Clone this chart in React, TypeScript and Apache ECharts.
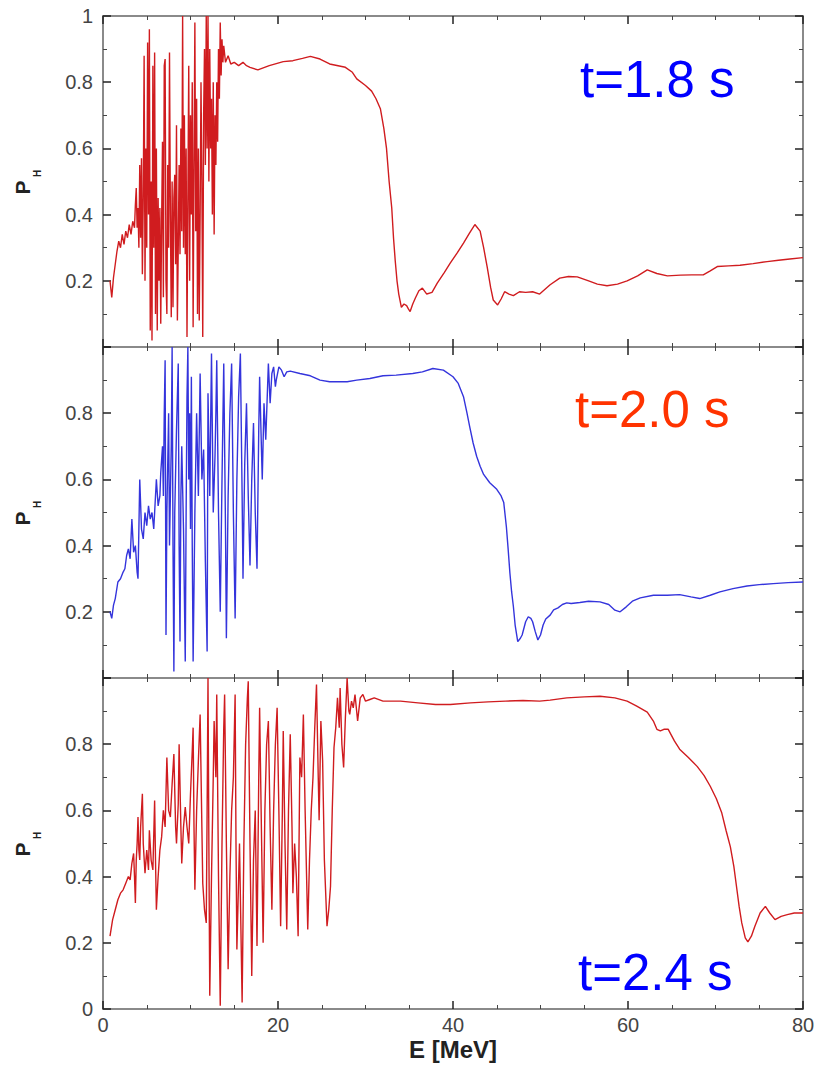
import React, { useEffect, useRef } from "react";
import * as echarts from "echarts";

// ---------- data ----------
const xTickLabels = ["0", "20", "40", "60", "80"];
const yLabelsTop = ["", "0.2", "0.4", "0.6", "0.8", "1"];
const yLabelsMid = ["", "0.2", "0.4", "0.6", "0.8", ""];
const yLabelsBot = ["0", "0.2", "0.4", "0.6", "0.8", ""];
const panelTitles = ["t=1.8 s", "t=2.0 s", "t=2.4 s"];

// t = 1.8 s
const e18 = [0.8,1.0,1.2,1.4,1.6,1.8,2.0,2.2,2.4,2.6,2.8,3.0,3.2,3.4,3.6,3.7,3.8,3.9,4.0,4.1,4.2,4.3,4.4,4.5,4.6,4.7,4.8,4.9,5.0,5.1,5.2,5.3,5.4,5.5,5.6,5.7,5.8,5.9,6.0,6.1,6.2,6.3,6.4,6.5,6.6,6.7,6.8,6.9,7.0,7.1,7.2,7.3,7.4,7.5,7.6,7.7,7.8,7.9,8.0,8.1,8.2,8.3,8.4,8.5,8.6,8.7,8.8,8.9,9.0,9.1,9.2,9.3,9.4,9.5,9.6,9.7,9.8,9.9,10.0,10.1,10.2,10.3,10.4,10.5,10.6,10.7,10.8,10.9,11.0,11.1,11.2,11.3,11.4,11.5,11.6,11.7,11.8,11.9,12.0,12.1,12.2,12.3,12.4,12.5,12.6,12.7,12.8,12.9,13.0,13.1,13.2,13.3,13.4,13.5,13.6,13.7,13.8,14.0,14.3,14.6,15.0,15.5,16.0,16.4,16.8,17.7,19.0,20.6,21.7,22.8,23.7,24.8,25.9,27.7,28.5,29.0,30.0,30.7,31.2,31.7,32.1,32.4,32.7,33.0,33.2,33.4,33.6,33.8,34.1,34.4,34.7,34.9,35.1,35.4,35.7,36.1,36.5,37.0,37.6,38.2,39.0,39.7,40.5,41.2,41.9,42.5,43.1,43.5,43.9,44.3,44.6,45.1,45.5,45.9,46.4,46.9,47.6,48.3,49.1,49.9,51.1,52.2,53.2,54.2,55.5,56.5,57.6,58.8,59.9,61.1,62.2,63.3,64.5,66.0,67.3,68.6,69.4,70.2,71.5,72.8,74.3,75.9,77.2,78.5,80];
const p18 = [0.20,0.15,0.21,0.25,0.29,0.32,0.30,0.34,0.31,0.35,0.33,0.37,0.34,0.38,0.36,0.43,0.48,0.36,0.42,0.30,0.55,0.33,0.57,0.22,0.45,0.88,0.20,0.60,0.30,0.92,0.40,0.96,0.05,0.50,0.02,0.85,0.30,0.89,0.10,0.60,0.05,0.45,0.20,0.42,0.07,0.38,0.62,0.15,0.85,0.87,0.20,0.10,0.55,0.30,0.89,0.40,0.09,0.50,0.12,0.45,0.52,0.25,0.67,0.08,0.30,0.55,0.28,0.66,0.35,1.0,0.30,0.70,0.28,0.60,0.03,0.45,0.85,0.20,0.70,0.40,0.80,0.06,0.55,0.98,0.35,0.75,0.10,0.60,0.08,0.40,0.80,0.50,0.03,0.70,0.90,0.55,1.0,0.60,1.0,0.50,0.90,0.60,0.75,0.40,0.80,0.34,0.70,0.55,0.80,0.62,0.90,0.75,0.98,0.82,0.93,0.86,0.91,0.86,0.88,0.855,0.86,0.85,0.86,0.85,0.845,0.837,0.85,0.862,0.865,0.872,0.878,0.87,0.855,0.845,0.83,0.81,0.79,0.773,0.75,0.72,0.66,0.60,0.50,0.42,0.33,0.26,0.20,0.16,0.12,0.13,0.125,0.115,0.107,0.13,0.148,0.17,0.178,0.16,0.165,0.193,0.225,0.254,0.285,0.314,0.345,0.37,0.35,0.30,0.243,0.18,0.142,0.127,0.145,0.167,0.16,0.155,0.167,0.165,0.167,0.16,0.188,0.208,0.213,0.212,0.20,0.19,0.185,0.19,0.20,0.215,0.233,0.222,0.215,0.217,0.218,0.218,0.23,0.243,0.245,0.247,0.252,0.258,0.262,0.266,0.27];

// t = 2.0 s
const e20 = [0.8,1.0,1.2,1.4,1.7,2.0,2.3,2.5,2.7,2.9,3.1,3.3,3.5,3.7,3.9,4.0,4.2,4.4,4.6,4.8,5.0,5.2,5.4,5.6,5.8,6.0,6.1,6.3,6.5,6.6,6.8,6.9,7.0,7.1,7.2,7.3,7.5,7.6,7.8,7.9,8.0,8.1,8.2,8.4,8.6,8.7,8.8,8.9,9.0,9.2,9.4,9.5,9.6,9.7,9.8,9.9,10.0,10.1,10.2,10.3,10.5,10.7,10.9,11.1,11.3,11.5,11.7,11.9,12.0,12.2,12.4,12.6,12.8,12.9,13.0,13.2,13.4,13.6,13.8,14.0,14.1,14.3,14.5,14.7,14.9,15.1,15.3,15.5,15.7,15.9,16.0,16.2,16.4,16.6,16.8,17.0,17.2,17.4,17.6,17.8,17.9,18.1,18.2,18.4,18.6,18.9,19.1,19.3,19.5,19.7,19.8,20.1,20.4,20.7,21.0,21.4,22.5,23.7,24.8,25.9,27.9,29.0,30.5,32.0,33.5,35.4,36.5,37.7,38.9,40.0,40.6,41.2,41.6,41.9,42.3,42.7,43.1,43.5,44.2,45.0,45.5,45.8,46.1,46.3,46.5,46.7,46.9,47.1,47.4,47.7,47.9,48.3,48.6,48.9,49.1,49.4,49.7,50.0,50.3,50.6,51.1,51.5,52.0,52.5,53.0,53.5,54.5,55.5,56.8,57.8,58.5,59.1,59.8,60.5,61.4,62.9,64.5,65.9,67.2,68.2,69.4,70.5,72.0,73.6,75.0,76.6,78.3,80];
const p20 = [0.20,0.18,0.22,0.24,0.29,0.30,0.32,0.33,0.37,0.39,0.36,0.48,0.38,0.40,0.32,0.30,0.60,0.45,0.42,0.50,0.46,0.52,0.48,0.50,0.45,0.55,0.60,0.52,0.55,0.62,0.70,0.55,0.80,0.96,0.13,0.50,0.80,0.40,0.70,1.0,0.40,0.02,0.50,0.75,0.95,0.40,0.11,0.55,0.70,0.45,0.05,0.50,0.85,1.0,0.60,0.80,0.45,0.91,0.40,0.05,0.50,0.80,0.55,0.92,0.60,0.69,0.35,0.08,0.86,0.55,0.98,0.50,0.67,0.80,0.96,0.50,0.20,0.60,0.95,0.45,0.12,0.55,0.80,0.95,0.50,0.18,0.60,0.85,0.98,0.55,0.30,0.65,0.83,0.55,0.34,0.60,0.77,0.50,0.33,0.75,0.91,0.70,0.60,0.83,0.72,0.95,0.83,0.92,0.94,0.88,0.90,0.94,0.93,0.91,0.925,0.927,0.92,0.913,0.90,0.895,0.895,0.90,0.905,0.913,0.915,0.92,0.925,0.935,0.93,0.91,0.89,0.85,0.80,0.76,0.71,0.67,0.64,0.615,0.59,0.57,0.55,0.53,0.457,0.39,0.318,0.26,0.216,0.16,0.11,0.12,0.13,0.17,0.185,0.18,0.17,0.14,0.115,0.13,0.16,0.178,0.19,0.206,0.212,0.222,0.227,0.225,0.228,0.232,0.23,0.222,0.205,0.20,0.215,0.232,0.242,0.25,0.25,0.252,0.245,0.24,0.25,0.26,0.27,0.278,0.282,0.285,0.288,0.29];

// t = 2.4 s
const e24 = [0.8,1.1,1.4,1.7,2.0,2.3,2.6,2.9,3.1,3.3,3.5,3.6,3.7,3.8,3.9,4.0,4.1,4.2,4.3,4.5,4.6,4.8,5.0,5.2,5.3,5.5,5.7,5.9,6.0,6.1,6.3,6.5,6.7,6.9,7.1,7.3,7.5,7.7,7.9,8.1,8.3,8.4,8.6,8.7,8.9,9.0,9.2,9.4,9.6,9.8,10.0,10.2,10.3,10.4,10.5,10.7,10.9,11.1,11.3,11.4,11.6,11.8,11.9,12.0,12.1,12.2,12.4,12.6,12.7,12.9,13.0,13.2,13.4,13.6,13.8,13.9,14.1,14.3,14.5,14.7,14.9,15.1,15.2,15.3,15.6,15.9,16.1,16.3,16.5,16.6,16.8,17.0,17.2,17.4,17.6,17.8,17.9,18.1,18.3,18.5,18.7,18.9,19.1,19.3,19.5,19.7,19.9,20.1,20.3,20.5,20.6,20.8,21.0,21.2,21.4,21.6,21.7,21.9,22.1,22.3,22.5,22.7,22.9,23.1,23.4,23.6,23.8,24.0,24.2,24.4,24.6,24.7,24.9,25.1,25.3,25.6,25.8,26.0,26.2,26.4,26.6,26.8,27.0,27.1,27.3,27.5,27.7,27.9,28.1,28.2,28.4,28.6,28.8,29.1,29.4,29.7,30.0,30.5,31.0,32.0,34.0,36.0,38.0,39.7,42.0,44.0,46.0,48.0,49.9,51.1,53.0,55.0,56.8,58.5,59.9,61.0,62.2,62.9,63.3,63.7,64.1,64.6,65.3,65.9,66.9,67.9,68.7,69.4,70.1,70.7,71.2,71.7,72.1,72.4,72.7,73.0,73.4,73.7,74.1,74.5,75.1,75.7,76.2,76.8,77.5,78.2,79.0,80];
const p24 = [0.22,0.27,0.30,0.33,0.35,0.36,0.38,0.40,0.39,0.44,0.47,0.40,0.32,0.45,0.50,0.58,0.48,0.45,0.55,0.65,0.50,0.41,0.48,0.42,0.54,0.45,0.42,0.63,0.45,0.30,0.40,0.48,0.52,0.60,0.55,0.76,0.60,0.58,0.68,0.77,0.55,0.50,0.62,0.80,0.55,0.44,0.55,0.61,0.55,0.50,0.65,0.78,0.85,0.55,0.36,0.60,0.75,0.89,0.55,0.38,0.30,0.26,0.60,1.0,0.50,0.04,0.40,0.70,0.87,0.70,0.95,0.40,0.01,0.50,0.85,0.95,0.50,0.12,0.40,0.60,0.70,0.95,0.50,0.18,0.50,0.02,0.50,0.80,0.94,0.99,0.50,0.10,0.45,0.60,0.19,0.70,0.91,0.55,0.20,0.60,0.80,0.87,0.55,0.30,0.60,0.80,0.91,0.60,0.25,0.60,0.84,0.50,0.24,0.60,0.83,0.55,0.35,0.50,0.40,0.22,0.76,0.70,0.89,0.60,0.24,0.45,0.60,0.70,0.85,0.98,0.70,0.57,0.87,0.75,0.45,0.25,0.30,0.37,0.60,0.79,0.85,0.94,0.85,0.97,0.80,0.73,0.88,1.0,0.90,0.89,0.93,0.91,0.95,0.87,0.94,0.95,0.93,0.935,0.94,0.93,0.93,0.925,0.92,0.92,0.925,0.928,0.93,0.932,0.93,0.933,0.94,0.943,0.945,0.94,0.93,0.915,0.897,0.87,0.845,0.84,0.845,0.845,0.81,0.785,0.76,0.733,0.705,0.673,0.635,0.594,0.54,0.49,0.43,0.37,0.31,0.26,0.215,0.203,0.22,0.25,0.29,0.31,0.29,0.27,0.28,0.285,0.29,0.29];

// ---------- layout / style ----------
const W = 818;
const H = 1068;
const PLOT_LEFT = 103;
const PLOT_RIGHT = 15;
const PANEL_TOPS = [16, 347, 678];
const PANEL_H = 331;
const RED = "#d01c1f";
const BLUE = "#3434dc";
const FONT = "Liberation Sans";

function makeX(i: number, pos: "bottom" | "top") {
  return {
    type: "value",
    gridIndex: i,
    position: pos,
    min: 0,
    max: 80,
    interval: 20,
    axisLine: { show: true, onZero: false, lineStyle: { color: "#8a8a8a", width: 2 } },
    axisTick: { show: true, inside: true, length: 8, lineStyle: { color: "#222222", width: 1.5 } },
    minorTick: { show: true, splitNumber: 4, length: 4, lineStyle: { color: "#444444", width: 1 } },
    splitLine: { show: false },
    axisLabel: {
      show: pos === "bottom" && i === 2,
      margin: 6,
      fontSize: 20,
      color: "#444",
      fontFamily: FONT,
      formatter: (v: number) => xTickLabels[Math.round(v / 20)],
    },
  };
}

function makeY(i: number, pos: "left" | "right", labels: string[]) {
  return {
    type: "value",
    gridIndex: i,
    position: pos,
    min: 0,
    max: 1,
    interval: 0.2,
    axisLine: { show: true, onZero: false, lineStyle: { color: "#8a8a8a", width: 2 } },
    axisTick: { show: true, inside: true, length: 8, lineStyle: { color: "#222222", width: 1.5 } },
    minorTick: { show: true, splitNumber: 2, length: 4, lineStyle: { color: "#444444", width: 1 } },
    splitLine: { show: false },
    axisLabel: {
      show: pos === "left",
      margin: 10,
      fontSize: 20,
      color: "#444",
      fontFamily: FONT,
      formatter: (v: number) => labels[Math.round(v / 0.2)] || " ",
    },
  };
}

export default function App() {
  const ref = useRef<HTMLDivElement>(null);

  useEffect(() => {
    if (!ref.current) return;
    const chart = echarts.init(ref.current, undefined, { renderer: "svg" });
    const yLabelSets = [yLabelsTop, yLabelsMid, yLabelsBot];
    const grids = PANEL_TOPS.map((t) => ({ left: PLOT_LEFT, right: PLOT_RIGHT, top: t, height: PANEL_H }));
    const xAxes: any[] = [];
    const yAxes: any[] = [];
    for (let i = 0; i < 3; i++) {
      xAxes.push(makeX(i, "bottom"), makeX(i, "top"));
      yAxes.push(makeY(i, "left", yLabelSets[i]), makeY(i, "right", yLabelSets[i]));
    }
    const sets = [
      { e: e18, p: p18, c: RED },
      { e: e20, p: p20, c: BLUE },
      { e: e24, p: p24, c: RED },
    ];
    const series = sets.map((s, i) => ({
      type: "line",
      xAxisIndex: 2 * i,
      yAxisIndex: 2 * i,
      data: s.e.map((x, k) => [x, s.p[k]]),
      showSymbol: false,
      lineStyle: { color: s.c, width: 1.4 },
      itemStyle: { color: s.c },
    }));

    const titleColors = ["#0000ff", "#ff3300", "#0000ff"];
    const titlePos = [
      { x: 580, y: 79 },
      { x: 575, y: 409 },
      { x: 578, y: 972 },
    ];
    const graphics: any[] = [];
    for (let i = 0; i < 3; i++) {
      graphics.push({
        type: "text",
        x: titlePos[i].x,
        y: titlePos[i].y,
        z: 10,
        style: {
          text: panelTitles[i],
          fill: titleColors[i],
          font: `51px ${FONT}`,
          textAlign: "left",
          textVerticalAlign: "middle",
        },
      });
      const cy = PANEL_TOPS[i] + PANEL_H / 2;
      graphics.push({
        type: "text",
        x: 22,
        y: cy + 6,
        rotation: Math.PI / 2,
        style: { text: "P", fill: "#222", font: `bold 21px ${FONT}`, textAlign: "center", textVerticalAlign: "middle" },
      });
      graphics.push({
        type: "text",
        x: 37,
        y: cy - 8,
        rotation: Math.PI / 2,
        style: { text: "H", fill: "#222", font: `bold 10px ${FONT}`, textAlign: "center", textVerticalAlign: "middle" },
      });
    }
    graphics.push({
      type: "text",
      x: 453,
      y: 1049,
      style: { text: "E [MeV]", fill: "#222", font: `bold 24px ${FONT}`, textAlign: "center", textVerticalAlign: "middle" },
    });

    chart.setOption({
      animation: false,
      grid: grids,
      xAxis: xAxes,
      yAxis: yAxes,
      series,
      graphic: graphics,
    });
    return () => chart.dispose();
  }, []);

  return (
    <div
      ref={ref}
      style={{ position: "absolute", left: 0, top: 0, width: W, height: H, background: "#fff" }}
    />
  );
}
